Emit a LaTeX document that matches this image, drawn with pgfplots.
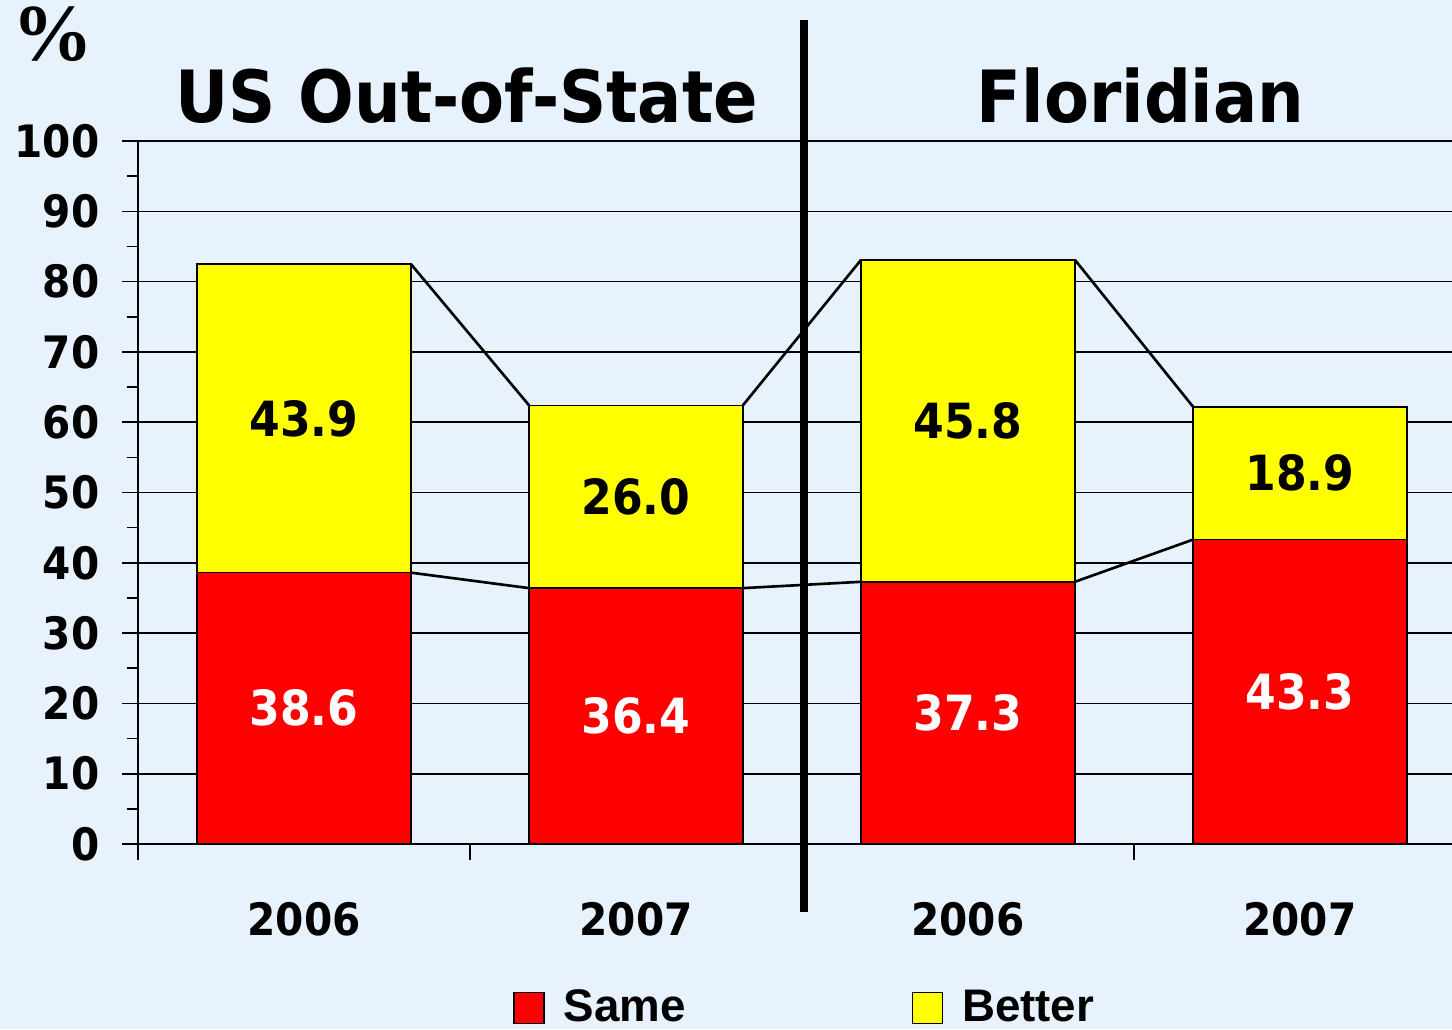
\documentclass[border=0pt]{standalone}
\usepackage{pgfplots}
\pgfplotsset{compat=1.18}
\usepackage{fontspec}
\setmainfont{DejaVu Sans}[FakeStretch=0.91]
\newfontfamily\legfont{Liberation Sans}
\newfontfamily\pctfont{Liberation Serif}
\usetikzlibrary{backgrounds}
\definecolor{bg}{HTML}{E8F2FC}
\definecolor{barred}{RGB}{255,0,0}
\definecolor{baryellow}{RGB}{255,255,0}

\begin{document}
\begin{tikzpicture}
\begin{axis}[
  scale only axis,
  width=131.4mm, height=70.3mm,
  xmin=-0.5, xmax=3.458,
  ymin=0, ymax=100,
  clip=false,
  axis lines*=left,
  axis line style={black, line width=0.45pt},
  ytick={0,10,...,100},
  minor ytick={5,15,...,95},
  ymajorgrids,
  major grid style={black, line width=0.45pt},
  tick align=outside,
  major tick length=1.6mm,
  minor tick length=1.1mm,
  tick style={black, line width=0.45pt},
  xtick={-0.5,0.5,1.5,2.5},
  xticklabels={},
  extra x ticks={0,1,2,3},
  extra x tick labels={2006,2007,2006,2007},
  extra x tick style={major tick length=0pt, grid=none},
  /pgf/number format/assume math mode=true,
  ticklabel style={font=\fontsize{12.7}{14}\selectfont\bfseries},
  yticklabel style={inner sep=0pt, xshift=-2.2mm},
  xticklabel style={anchor=base, yshift=-9.1mm},
  legend columns=2,
  legend style={draw=none, fill=none, at={(0.2854,-0.2333)}, anchor=west,
    inner sep=0pt, outer sep=0pt,
    font=\legfont\fontsize{13}{15}\selectfont\bfseries,
    /tikz/every even column/.append style={column sep=22.6mm},
    /tikz/every odd column/.append style={column sep=1.9mm},
    nodes={inner sep=0pt}},
  legend image code/.code={\draw[#1] (0mm,-1.55mm) rectangle (3mm,1.55mm);},
]
% totals (Better on top of Same), drawn first; Same overlays the lower part
\addplot[ybar, bar width=21.4mm, bar shift=0pt, fill=baryellow, draw=black, line width=0.45pt, forget plot]
  coordinates {(0,82.5) (1,62.4) (2,83.1) (3,62.2)};
\addplot[ybar, bar width=21.4mm, bar shift=0pt, fill=barred, draw=black, line width=0.45pt, forget plot]
  coordinates {(0,38.6) (1,36.4) (2,37.3) (3,43.3)};

% series lines between bar corners
\addplot[black, line width=0.75pt, forget plot] coordinates {(0.322,82.5) (0.678,62.4)};
\addplot[black, line width=0.75pt, forget plot] coordinates {(1.322,62.4) (1.678,83.1)};
\addplot[black, line width=0.75pt, forget plot] coordinates {(2.322,83.1) (2.678,62.2)};
\addplot[black, line width=0.75pt, forget plot] coordinates {(0.322,38.6) (0.678,36.4)};
\addplot[black, line width=0.75pt, forget plot] coordinates {(1.322,36.4) (1.678,37.3)};
\addplot[black, line width=0.75pt, forget plot] coordinates {(2.322,37.3) (2.678,43.3)};

% value labels
\addplot[draw=none, forget plot, nodes near coords, point meta=explicit symbolic,
  nodes near coords style={anchor=center, text=white, font=\fontsize{13.8}{16}\selectfont\bfseries}]
  coordinates {(0,19.3)[38.6] (1,18.2)[36.4] (2,18.65)[37.3] (3,21.65)[43.3]};
\addplot[draw=none, forget plot, nodes near coords, point meta=explicit symbolic,
  nodes near coords style={anchor=center, text=black, font=\fontsize{13.8}{16}\selectfont\bfseries}]
  coordinates {(0,60.55)[43.9] (1,49.4)[26.0] (2,60.2)[45.8] (3,52.75)[18.9]};

\addlegendimage{fill=barred, draw=black, line width=0.45pt}
\addlegendentry{Same}
\addlegendimage{fill=baryellow, draw=black, line width=0.45pt}
\addlegendentry{Better}

% divider and group titles
\draw[black, line width=2.3pt] (axis cs:1.505,117.2) -- (axis cs:1.505,-9.7);
\node[anchor=base, font=\fontsize{20.5}{24}\selectfont\bfseries] at (axis cs:0.49,102.7) {US Out-of-State};
\node[anchor=base, font=\fontsize{20.5}{24}\selectfont\bfseries] at (axis cs:2.52,102.7) {Floridian};
\node[anchor=base, font=\pctfont\fontsize{23}{26}\selectfont\bfseries] at (axis cs:-0.756,111.5) {\%};

\coordinate (o) at (rel axis cs:0,0);
\end{axis}
\pgfresetboundingbox
\path[use as bounding box] ([shift={(-13.8mm,-18.5mm)}]o) rectangle ([shift={(131.4mm,84.4mm)}]o);
\begin{scope}[on background layer]
\fill[bg] ([shift={(-13.8mm,-18.5mm)}]o) rectangle ([shift={(131.4mm,84.4mm)}]o);
\end{scope}
\end{tikzpicture}
\end{document}
